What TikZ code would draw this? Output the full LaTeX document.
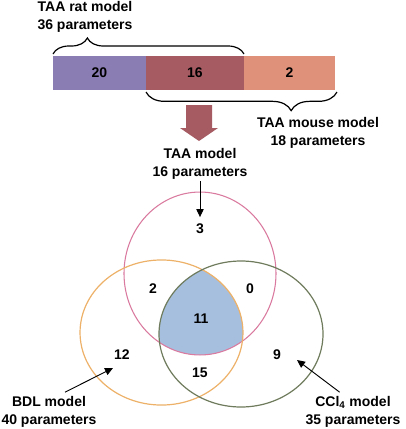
\documentclass[tikz,border=0pt]{standalone}
\usepackage{fontspec}
\setmainfont{Liberation Sans}
\usetikzlibrary{positioning,decorations.pathreplacing,arrows.meta}
\definecolor{ratbar}{HTML}{8A7DB3}
\definecolor{bothbar}{HTML}{A65B63}
\definecolor{mousebar}{HTML}{E0917A}
\definecolor{taaline}{HTML}{D97A9E}
\definecolor{bdlline}{HTML}{EDB168}
\definecolor{cclline}{HTML}{6E7B5C}
\definecolor{coreblue}{HTML}{A7BFDE}

\def\taaset{(200,273.5) ellipse [x radius=57pt, y radius=61.1pt]}
\def\bdlset{(161.5,332.5) ellipse [x radius=61.1pt, y radius=54.4pt]}
\def\cclset{(241,334) ellipse [x radius=61.5pt, y radius=54.75pt]}

\begin{document}
\begin{tikzpicture}[x=0.75pt, y=-0.75pt,
    every node/.style={font=\bfseries\fontsize{10.5}{13.5}\selectfont, align=center, inner sep=1pt},
    bar/.style={minimum height=25.5pt, inner sep=0pt, outer sep=0pt},
    brc/.style={decorate, line width=0.9pt},
    pointer/.style={-{Triangle[length=6pt, width=5.5pt]}, line width=0.7pt}]
    \useasboundingbox (0,0) rectangle (406,429);
    \node[bar, fill=ratbar, minimum width=69.75pt] (rat) at (99.5,73) {20};
    \node[bar, fill=bothbar, minimum width=73.5pt, right=0pt of rat] (both) {16};
    \node[bar, fill=mousebar, minimum width=68.25pt, right=0pt of both] (mouse) {2};
    \node (ratlbl) at (85,17) {TAA rat model\\36 parameters};
    \node (mouselbl) at (318,133) {TAA mouse model\\18 parameters};
    \node (taalbl) at (200,164) {TAA model\\16 parameters};
    \node (bdllbl) at (49,412) {BDL model\\40 parameters};
    \node (ccllbl) at (353,412) {CCl\textsubscript{4} model\\35 parameters};
    \draw[brc, decoration={brace, amplitude=12pt, aspect=0.18}] ([yshift=1.5pt]rat.north west) -- ([yshift=1.5pt]both.north east);
    \draw[brc, decoration={brace, amplitude=14pt, aspect=0.24}] ([xshift=1.5pt, yshift=-1.5pt]mouse.south east) -- ([yshift=-1.5pt]both.south west);
    \fill[bothbar] (186,105) -- (212,105) -- (212,128) -- (218,128) -- (199,141) -- (180,128) -- (186,128) -- cycle;
    \begin{scope}
        \clip \taaset;
        \clip \bdlset;
        \fill[coreblue] \cclset;
    \end{scope}
    \draw[taaline, line width=0.8pt] \taaset;
    \draw[bdlline, line width=0.9pt] \bdlset;
    \draw[cclline, line width=0.9pt] \cclset;
    \foreach \nm/\px/\py/\val in {n3/200/229/3, n2/153/289/2, n0/250/289/0, n11/201/319/11, n12/122/355/12, n9/277/355/9, n15/200/373/15}
        \node (\nm) at (\px,\py) {\val};
    \coordinate (bdltip) at (113,368);
    \coordinate (ccltip) at (297,360);
    \draw[pointer] (taalbl.south) -- ([yshift=4pt]n3.north);
    \draw[pointer] ([xshift=12pt, yshift=2pt]bdllbl.north) -- (bdltip);
    \draw[pointer] ([xshift=-10pt, yshift=2pt]ccllbl.north) -- (ccltip);
\end{tikzpicture}
\end{document}
